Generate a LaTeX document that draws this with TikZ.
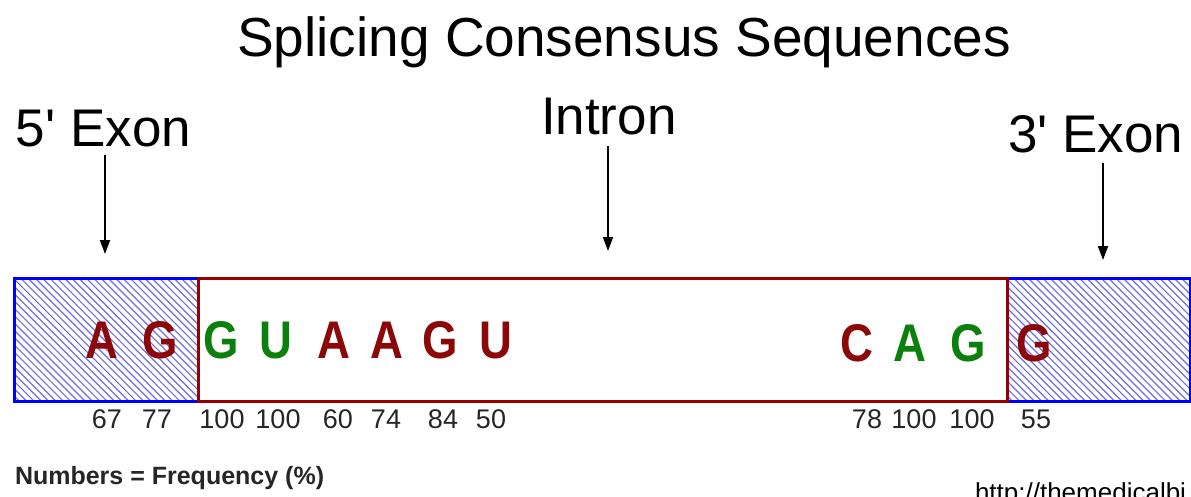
\documentclass[tikz,border=0pt]{standalone}
\usepackage{fontspec}
\setmainfont{Liberation Sans}
\usepackage{graphicx}
\usetikzlibrary{arrows.meta}
\definecolor{dred}{RGB}{140,8,8}
\definecolor{dgreen}{RGB}{12,128,12}
\definecolor{hatchblue}{RGB}{110,110,235}
\definecolor{boxblue}{RGB}{0,0,255}
\definecolor{boxred}{RGB}{150,0,0}
\newcommand\sqz[1]{\scalebox{0.86}[1]{#1}}
\tikzset{
  txt/.style={inner sep=0pt, outer sep=0pt, anchor=base},
  title/.style={txt, font=\fontsize{55}{60}\selectfont},
  biglab/.style={txt, anchor=base west, font=\fontsize{53}{60}\selectfont},
  seqred/.style={txt, text=dred, font=\bfseries\fontsize{53}{60}\selectfont},
  seqgreen/.style={txt, text=dgreen, font=\bfseries\fontsize{53}{60}\selectfont},
  freq/.style={txt, font=\fontsize{27}{30}\selectfont, text=black!85},
  arr/.style={line width=2pt, -{Triangle[length=14pt,width=10pt]}},
  exonbox/.style={draw=boxblue, line width=3pt},
  intronbox/.style={draw=boxred, line width=3pt},
  hatchline/.style={draw=hatchblue, line width=1.2pt}
}
\begin{document}
\begin{tikzpicture}[x=1pt,y=-1pt]
\useasboundingbox (0,0) rectangle (1191,497);
\clip (0,0) rectangle (1191,497);
\fill[white] (0,0) rectangle (1191,497);

% title and labels
\node[title] (title) at (624,57) {Splicing Consensus Sequences};
\node[biglab] (exon5) at (16,147) {5\textquotesingle{} Exon};
\node[biglab] (intron) at (541,135) {Intron};
\node[biglab] (exon3) at (1008,153) {3\textquotesingle{} Exon};

% arrows
\coordinate (a5s) at (105,155);
\coordinate (a5t) at (105,254);
\coordinate (ais) at (608,146);
\coordinate (ait) at (608,251);
\coordinate (a3s) at (1103,163);
\coordinate (a3t) at (1103,260);
\draw[arr] (a5s) -- (a5t);
\draw[arr] (ais) -- (ait);
\draw[arr] (a3s) -- (a3t);

% hatching of exon boxes
\begin{scope}
  \clip (13,277) rectangle (197,400);
  \foreach \i in {0,...,45} {
    \draw[hatchline] ({13-125+\i*7.3},277) -- ++(125,125);
  }
\end{scope}
\begin{scope}
  \clip (1006,277) rectangle (1189,400);
  \foreach \i in {0,...,45} {
    \draw[hatchline] ({1006-125+\i*7.3},277) -- ++(125,125);
  }
\end{scope}

% boxes
\node[exonbox, inner sep=0, minimum width=184pt, minimum height=123pt, anchor=north west] (box5) at (13,277) {};
\node[exonbox, inner sep=0, minimum width=183pt, minimum height=123pt, anchor=north west] (box3) at (1006,277) {};
\node[intronbox, inner sep=0, minimum width=809pt, minimum height=123pt, anchor=north west] (boxi) at (197,277) {};

% sequence letters
\node[seqred]   (s1)  at (102,358) {\sqz{A}};
\node[seqred]   (s2)  at (160,358) {\sqz{G}};
\node[seqgreen] (s3)  at (221,358) {\sqz{G}};
\node[seqgreen] (s4)  at (276,358) {\sqz{U}};
\node[seqred]   (s5)  at (334,358) {\sqz{A}};
\node[seqred]   (s6)  at (387,358) {\sqz{A}};
\node[seqred]   (s7)  at (440,358) {\sqz{G}};
\node[seqred]   (s8)  at (496,358) {\sqz{U}};
\node[seqred]   (s9)  at (857,361) {\sqz{C}};
\node[seqgreen] (s10) at (910,361) {\sqz{A}};
\node[seqgreen] (s11) at (968,361) {\sqz{G}};
\node[seqred]   (s12) at (1034,361) {\sqz{G}};

% frequencies
\node[freq] (f1)  at (107,428) {67};
\node[freq] (f2)  at (157,428) {77};
\node[freq] (f3)  at (222,428) {100};
\node[freq] (f4)  at (278,428) {100};
\node[freq] (f5)  at (338,428) {60};
\node[freq] (f6)  at (386,428) {74};
\node[freq] (f7)  at (443,428) {84};
\node[freq] (f8)  at (491,428) {50};
\node[freq] (f9)  at (867,428) {78};
\node[freq] (f10) at (914,428) {100};
\node[freq] (f11) at (972,428) {100};
\node[freq] (f12) at (1036,428) {55};

% footnotes
\node[txt, anchor=base west, font=\bfseries\fontsize{25}{28}\selectfont, text=black!85] (legend) at (15,484) {Numbers = Frequency (\%)};
\node[txt, anchor=base west, font=\fontsize{26}{28}\selectfont] (url) at (975,501) {http://themedicalbi};
\end{tikzpicture}
\end{document}
